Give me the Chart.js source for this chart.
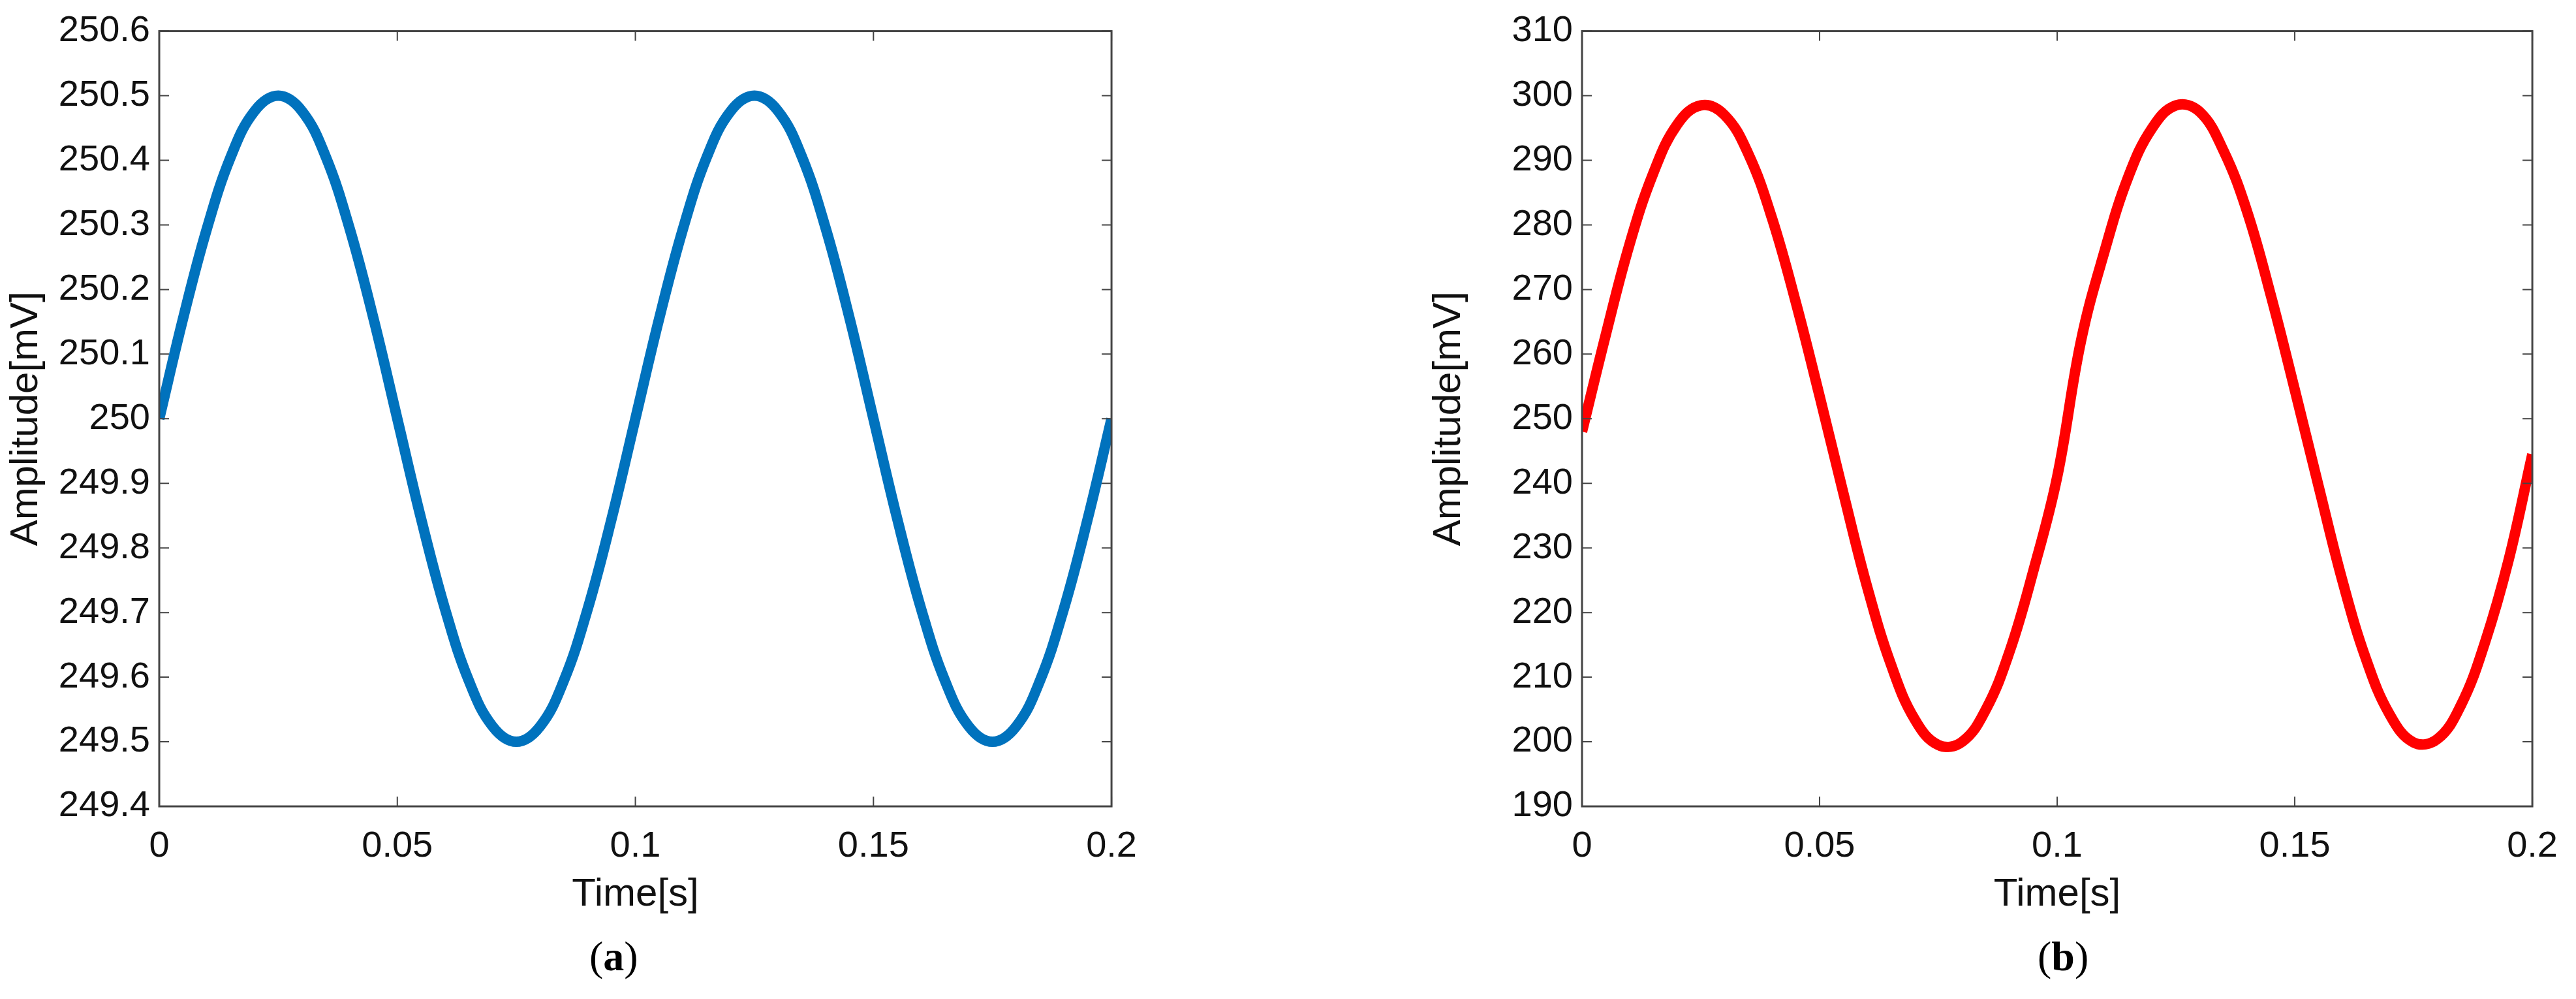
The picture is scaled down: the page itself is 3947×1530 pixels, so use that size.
<!DOCTYPE html>
<html>
<head>
<meta charset="utf-8">
<script src="https://cdn.jsdelivr.net/npm/chart.js@4/dist/chart.umd.min.js"></script>
<style>
  html, body { margin: 0; padding: 0; background: #fff; }
  body { width: 3947px; height: 1530px; position: relative; overflow: hidden; }
  .panel { position: absolute; top: 0; }
  .caption { position: absolute; top: 1428px; font-family: "Liberation Serif", "DejaVu Serif", serif; font-size: 64px; color: #000; }
</style>
</head>
<body>
<div class="panel" style="left:0px;width:1770px;height:1410px"><canvas id="chartA"></canvas></div>
<div class="panel" style="left:2180px;width:1767px;height:1410px"><canvas id="chartB"></canvas></div>
<div class="caption" style="left:903px">(<b>a</b>)</div>
<div class="caption" style="left:3122px">(<b>b</b>)</div>
<script>
const times = [0, 0.005, 0.01, 0.015, 0.02, 0.025, 0.03, 0.035, 0.04, 0.045, 0.05, 0.055, 0.06, 0.065, 0.07, 0.075, 0.08, 0.085, 0.09, 0.095, 0.1,
  0.105, 0.11, 0.115, 0.12, 0.125, 0.13, 0.135, 0.14, 0.145, 0.15, 0.155, 0.16, 0.165, 0.17, 0.175, 0.18, 0.185, 0.19, 0.195, 0.2];

const amplitudeA = [250, 250.155, 250.294, 250.405, 250.476, 250.5, 250.476, 250.405, 250.294, 250.155, 250,
  249.845, 249.706, 249.595, 249.524, 249.5, 249.524, 249.595, 249.706, 249.845, 250,
  250.155, 250.294, 250.405, 250.476, 250.5, 250.476, 250.405, 250.294, 250.155, 250,
  249.845, 249.706, 249.595, 249.524, 249.5, 249.524, 249.595, 249.706, 249.845, 250];

const amplitudeB = [248, 263, 277, 288, 295.5, 298.5, 297, 291, 281, 268, 253.5,
  238.5, 224, 212, 203.5, 199.5, 200, 205, 214, 226.5, 241,
  262, 276, 287.5, 295, 298.5, 297.5, 291.5, 282, 269, 254.5,
  239.6, 225, 212.8, 204.2, 199.9, 200.4, 205.7, 215.3, 228.1, 244.5];

const xTicks = [0, 0.05, 0.1, 0.15, 0.2];
const yTicksA = [249.4, 249.5, 249.6, 249.7, 249.8, 249.9, 250, 250.1, 250.2, 250.3, 250.4, 250.5, 250.6];
const yTicksB = [190, 200, 210, 220, 230, 240, 250, 260, 270, 280, 290, 300, 310];

// box around the plot with inward ticks on all four sides (MATLAB style)
const boxPlugin = {
  id: 'box',
  afterDraw(chart) {
    const { ctx, chartArea: a, scales } = chart;
    const len = 15;
    ctx.save();
    ctx.strokeStyle = '#444';
    ctx.lineWidth = 3;
    ctx.strokeRect(a.left, a.top, a.right - a.left, a.bottom - a.top);
    ctx.lineWidth = 2;
    ctx.beginPath();
    scales.x.ticks.forEach((t) => {
      const px = scales.x.getPixelForValue(t.value);
      ctx.moveTo(px, a.bottom); ctx.lineTo(px, a.bottom - len);
      ctx.moveTo(px, a.top); ctx.lineTo(px, a.top + len);
    });
    scales.y.ticks.forEach((t) => {
      const py = scales.y.getPixelForValue(t.value);
      ctx.moveTo(a.left, py); ctx.lineTo(a.left + len, py);
      ctx.moveTo(a.right, py); ctx.lineTo(a.right - len, py);
    });
    ctx.stroke();
    ctx.restore();
  },
};

const makeChart = (id, values, color, yTicks, decimals) => {
  const font = { family: '"Liberation Sans", Arial, sans-serif' };
  return new Chart(document.getElementById(id), {
    type: 'line',
    data: {
      datasets: [{
        data: times.map((t, i) => ({ x: t, y: values[i] })),
        borderColor: color,
        borderWidth: 16,
        pointRadius: 0,
        tension: 0.4,
        borderCapStyle: 'butt',
      }],
    },
    options: {
      responsive: true,
      maintainAspectRatio: false,
      animation: false,
      layout: { padding: { top: 46, right: 60, bottom: 0, left: 0 } },
      plugins: { legend: { display: false }, tooltip: { enabled: false } },
      scales: {
        x: {
          type: 'linear',
          min: xTicks[0],
          max: xTicks[xTicks.length - 1],
          afterBuildTicks: (s) => { s.ticks = xTicks.map((v) => ({ value: v })); },
          afterFit: (s) => { s.height = 175; },
          grid: { display: false, drawTicks: false },
          border: { display: false },
          ticks: {
            color: '#111', padding: 28, maxRotation: 0,
            font: { ...font, size: 56 },
            callback: (v) => String(v),
          },
          title: { display: true, text: 'Time[s]', color: '#111', padding: { top: 10 }, font: { ...font, size: 60 } },
        },
        y: {
          min: yTicks[0],
          max: yTicks[yTicks.length - 1],
          afterBuildTicks: (s) => { s.ticks = yTicks.map((v) => ({ value: v })); },
          afterFit: (s) => { s.width = 244; },
          grid: { display: false, drawTicks: false },
          border: { display: false },
          ticks: {
            color: '#111', padding: 14,
            font: { ...font, size: 56 },
            callback: (v) => String(Number(v.toFixed(decimals))),
          },
          title: { display: true, text: 'Amplitude[mV]', color: '#111', padding: { bottom: 0 }, font: { ...font, size: 60 } },
        },
      },
    },
    plugins: [boxPlugin],
  });
};

makeChart('chartA', amplitudeA, '#0072BD', yTicksA, 1);
makeChart('chartB', amplitudeB, '#FF0000', yTicksB, 0);
</script>
</body>
</html>
